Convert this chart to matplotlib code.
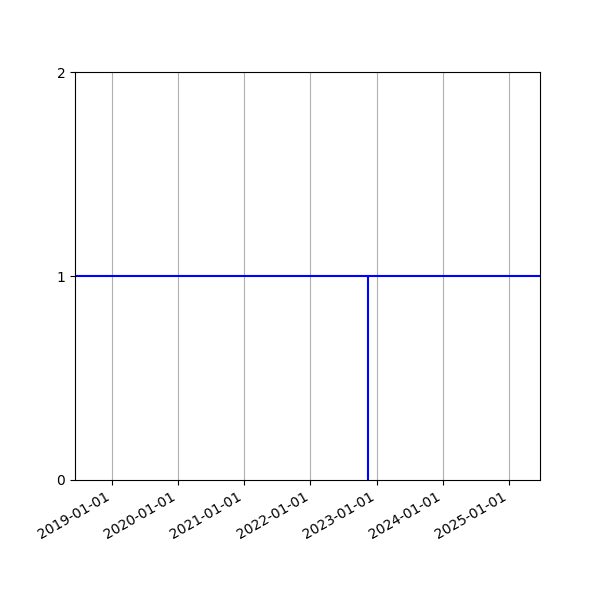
import numpy as np
import matplotlib
matplotlib.use("Agg")
import matplotlib.pyplot as plt
import matplotlib.dates as mdates

# values
event_date = np.datetime64("2022-11-14")
level = 1
x_start = np.datetime64("2018-06-12")
x_end = np.datetime64("2025-06-21")

fig, ax = plt.subplots(figsize=(6, 6), dpi=100)
ax.axhline(level, color="blue")
ax.vlines(event_date, 0, level, color="blue")

ax.set_xlim(x_start, x_end)
ax.set_ylim(0, 2)
ax.set_yticks([0, 1, 2])
ax.xaxis.set_major_locator(mdates.YearLocator())
ax.xaxis.set_major_formatter(mdates.DateFormatter("%Y-%m-%d"))
ax.grid(True, axis="x")
fig.autofmt_xdate()

fig.savefig("out.png")
